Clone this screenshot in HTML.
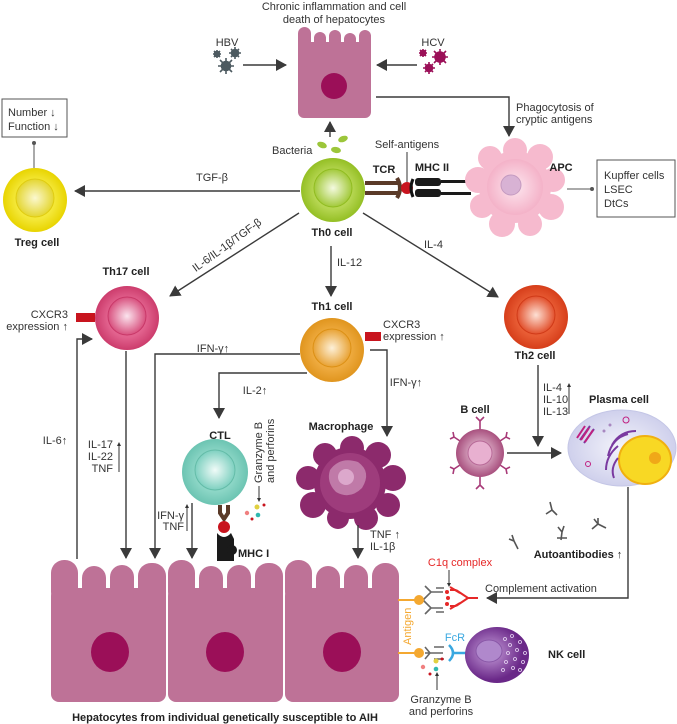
<!DOCTYPE html>
<html><head><meta charset="utf-8"><style>
html,body{margin:0;padding:0;background:#fff}
svg{display:block}
text{font-family:"Liberation Sans",sans-serif;font-size:11px;fill:#333}
.b{font-weight:bold;fill:#222}
</style></head><body>
<svg width="677" height="724" viewBox="0 0 677 724" xmlns="http://www.w3.org/2000/svg">
<defs>
<marker id="ar" markerUnits="userSpaceOnUse" markerWidth="12" markerHeight="12" refX="10" refY="6" orient="auto"><path d="M0,0 L11,6 L0,12 Z" fill="#3a3a3a"/></marker>
<radialGradient id="gG"><stop offset="0" stop-color="#f4fae0"/><stop offset="1" stop-color="#a2c93a"/></radialGradient>
<radialGradient id="gGo"><stop offset="0.6" stop-color="#b6d652"/><stop offset="1" stop-color="#94bf24"/></radialGradient>
<radialGradient id="gY"><stop offset="0" stop-color="#fbf8d0"/><stop offset="1" stop-color="#e4d630"/></radialGradient>
<radialGradient id="gYo"><stop offset="0.6" stop-color="#f4e83a"/><stop offset="1" stop-color="#e8d400"/></radialGradient>
<radialGradient id="gP"><stop offset="0" stop-color="#fbe4ee"/><stop offset="1" stop-color="#d8507e"/></radialGradient>
<radialGradient id="gPo"><stop offset="0.6" stop-color="#e2628e"/><stop offset="1" stop-color="#cc3c6c"/></radialGradient>
<radialGradient id="gO"><stop offset="0" stop-color="#fdf0d8"/><stop offset="1" stop-color="#e8a234"/></radialGradient>
<radialGradient id="gOo"><stop offset="0.6" stop-color="#eeaa3e"/><stop offset="1" stop-color="#e0951e"/></radialGradient>
<radialGradient id="gR"><stop offset="0" stop-color="#fde0d4"/><stop offset="1" stop-color="#e2502c"/></radialGradient>
<radialGradient id="gRo"><stop offset="0.6" stop-color="#e85c34"/><stop offset="1" stop-color="#d63e1a"/></radialGradient>
<radialGradient id="gT"><stop offset="0" stop-color="#f0fbf8"/><stop offset="1" stop-color="#7ed0c0"/></radialGradient>
<radialGradient id="gTo"><stop offset="0.6" stop-color="#8cd6c6"/><stop offset="1" stop-color="#6cc4b2"/></radialGradient>
<radialGradient id="gB"><stop offset="0" stop-color="#f6dceb"/><stop offset="1" stop-color="#a8507e"/></radialGradient>
<radialGradient id="gNK" cx="0.4" cy="0.45"><stop offset="0" stop-color="#c8a0dc"/><stop offset="1" stop-color="#6a2888"/></radialGradient>
<radialGradient id="gPl"><stop offset="0" stop-color="#f4f4fb"/><stop offset="1" stop-color="#cfd0ec"/></radialGradient>
<radialGradient id="gAPC"><stop offset="0" stop-color="#fde6ef"/><stop offset="1" stop-color="#f4b2c8"/></radialGradient>
</defs>

<!-- title -->
<text x="334" y="10" text-anchor="middle">Chronic inflammation and cell</text>
<text x="334" y="23" text-anchor="middle">death of hepatocytes</text>

<!-- top hepatocyte -->
<g fill="#be7297">
<rect x="298" y="42" width="73" height="76" rx="6"/>
<rect x="298" y="27" width="13" height="40" rx="6.5"/>
<rect x="314" y="32" width="12" height="35" rx="6"/>
<rect x="329" y="30" width="12" height="35" rx="6"/>
<rect x="344" y="33" width="12" height="35" rx="6"/>
<rect x="359" y="30" width="12" height="40" rx="6"/>
</g>
<circle cx="334" cy="86" r="13" fill="#9b0f58"/>

<!-- HBV -->
<text x="227" y="46" text-anchor="middle">HBV</text>
<g stroke="#4d5a60" stroke-width="1.6" fill="#4d5a60">
<circle cx="217" cy="54" r="2.5"/><path d="M213,54h8M217,50v8M214,51l6,6M220,51l-6,6"/>
<circle cx="235" cy="53" r="3.5"/><path d="M229,53h12M235,47v12M231,49l8,8M239,49l-8,8"/>
<circle cx="226" cy="66" r="4.5"/><path d="M218,66h16M226,58v16M220,60l12,12M232,60l-12,12"/>
</g>
<line x1="243" y1="65" x2="286" y2="65" stroke="#3a3a3a" stroke-width="1.4" marker-end="url(#ar)"/>
<!-- HCV -->
<text x="433" y="46" text-anchor="middle">HCV</text>
<g stroke="#9b1058" stroke-width="1.6" fill="#9b1058">
<circle cx="423" cy="53" r="2.5"/><path d="M419,53h8M423,49v8M420,50l6,6M426,50l-6,6"/>
<circle cx="440" cy="57" r="5"/><path d="M432,57h16M440,49v16M434,51l12,12M446,51l-12,12"/>
<circle cx="429" cy="68" r="3.5"/><path d="M423,68h12M429,62v12M425,64l8,8M433,64l-8,8"/>
</g>
<line x1="417" y1="65" x2="377" y2="65" stroke="#3a3a3a" stroke-width="1.4" marker-end="url(#ar)"/>

<!-- phagocytosis -->
<polyline points="376,97 509,97 509,136" fill="none" stroke="#3a3a3a" stroke-width="1.4" marker-end="url(#ar)"/>
<text x="516" y="111">Phagocytosis of</text>
<text x="516" y="123">cryptic antigens</text>

<!-- Treg box -->
<rect x="2" y="99" width="65" height="38" fill="#fff" stroke="#555" stroke-width="1"/>
<text x="8" y="116">Number ↓</text>
<text x="8" y="130">Function ↓</text>
<line x1="34" y1="143" x2="34" y2="168" stroke="#555" stroke-width="1"/>
<circle cx="34" cy="143" r="2" fill="#555"/>
<!-- Treg -->
<circle cx="35" cy="200" r="32" fill="url(#gYo)"/>
<circle cx="35" cy="198" r="19" fill="url(#gY)" stroke="#e0cc10" stroke-width="1"/>
<text x="37" y="246" text-anchor="middle" class="b">Treg cell</text>

<!-- bacteria -->
<line x1="330" y1="137" x2="330" y2="122" stroke="#3a3a3a" stroke-width="1.4" marker-end="url(#ar)"/>
<g fill="#9cc63a"><ellipse cx="322" cy="145" rx="5" ry="3" transform="rotate(20 322 145)"/><ellipse cx="343" cy="139" rx="5" ry="3" transform="rotate(-20 343 139)"/><ellipse cx="336" cy="150" rx="5" ry="3" transform="rotate(10 336 150)"/></g>
<text x="272" y="154">Bacteria</text>

<!-- Th0 -->
<circle cx="333" cy="190" r="32" fill="url(#gGo)"/>
<circle cx="333" cy="188" r="19" fill="url(#gG)" stroke="#90bc20" stroke-width="1"/>
<text x="332" y="236" text-anchor="middle" class="b">Th0 cell</text>

<!-- TGF-b -->
<line x1="300" y1="191" x2="75" y2="191" stroke="#3a3a3a" stroke-width="1.4" marker-end="url(#ar)"/>
<text x="212" y="181" text-anchor="middle">TGF-β</text>

<!-- TCR / MHC II -->
<rect x="365" y="181" width="34" height="4" fill="#5a3a28"/>
<rect x="365" y="191" width="34" height="4" fill="#5a3a28"/>
<path d="M397,178 q6,10 0,20" fill="none" stroke="#5a3a28" stroke-width="4"/>
<circle cx="407" cy="188" r="6" fill="#c8141e"/>
<line x1="407" y1="152" x2="407" y2="182" stroke="#333" stroke-width="1"/>
<text x="407" y="148" text-anchor="middle">Self-antigens</text>
<text x="384" y="173" text-anchor="middle" class="b">TCR</text>
<text x="432" y="171" text-anchor="middle" class="b">MHC II</text>
<path d="M413,179 q-4,9 0,18" fill="none" stroke="#111" stroke-width="3"/>
<rect x="415" y="178" width="26" height="8" rx="3" fill="#1a1a1a"/>
<rect x="415" y="189" width="26" height="8" rx="3" fill="#1a1a1a"/>
<rect x="441" y="180" width="30" height="3" fill="#1a1a1a"/>
<rect x="441" y="192" width="30" height="3" fill="#1a1a1a"/>

<!-- APC -->
<g fill="#f6bace">
<circle cx="515" cy="187" r="36"/>
<circle cx="515" cy="150" r="12"/><circle cx="540" cy="157" r="13"/><circle cx="553" cy="180" r="12"/>
<circle cx="551" cy="207" r="13"/><circle cx="530" cy="224" r="12"/><circle cx="502" cy="224" r="13"/>
<circle cx="482" cy="206" r="12"/><circle cx="478" cy="180" r="13"/><circle cx="490" cy="158" r="12"/>
</g>
<circle cx="515" cy="187" r="28" fill="url(#gAPC)"/>
<circle cx="511" cy="185" r="10" fill="#d8b2d4" stroke="#c49ac0"/>
<text x="561" y="171" text-anchor="middle" class="b">APC</text>
<line x1="567" y1="189" x2="592" y2="189" stroke="#555" stroke-width="1"/>
<circle cx="592" cy="189" r="2" fill="#555"/>
<rect x="597" y="160" width="78" height="57" fill="#fff" stroke="#555" stroke-width="1"/>
<text x="604" y="179">Kupffer cells</text>
<text x="604" y="193">LSEC</text>
<text x="604" y="207">DtCs</text>

<!-- Th0 branches -->
<line x1="299" y1="213" x2="170" y2="296" stroke="#3a3a3a" stroke-width="1.4" marker-end="url(#ar)"/>
<text x="229" y="248" text-anchor="middle" transform="rotate(-36 229 248)">IL-6/IL-1β/TGF-β</text>
<line x1="331" y1="246" x2="331" y2="296" stroke="#3a3a3a" stroke-width="1.4" marker-end="url(#ar)"/>
<text x="337" y="266">IL-12</text>
<line x1="363" y1="213" x2="498" y2="297" stroke="#3a3a3a" stroke-width="1.4" marker-end="url(#ar)"/>
<text x="424" y="248">IL-4</text>

<!-- Th17 -->
<text x="126" y="275" text-anchor="middle" class="b">Th17 cell</text>
<circle cx="127" cy="318" r="32" fill="url(#gPo)"/>
<circle cx="127" cy="316" r="19" fill="url(#gP)" stroke="#c83868" stroke-width="1"/>
<rect x="76" y="313" width="19" height="9" fill="#c8141e"/>
<text x="68" y="318" text-anchor="end">CXCR3</text>
<text x="68" y="330" text-anchor="end">expression ↑</text>

<!-- Th1 -->
<text x="332" y="310" text-anchor="middle" class="b">Th1 cell</text>
<circle cx="332" cy="350" r="32" fill="url(#gOo)"/>
<circle cx="332" cy="348" r="19" fill="url(#gO)" stroke="#dc9014" stroke-width="1"/>
<rect x="365" y="332" width="16" height="9" fill="#c8141e"/>
<text x="383" y="328">CXCR3</text>
<text x="383" y="340">expression ↑</text>

<!-- Th2 -->
<circle cx="536" cy="317" r="32" fill="url(#gRo)"/>
<circle cx="536" cy="315" r="19" fill="url(#gR)" stroke="#d03a18" stroke-width="1"/>
<text x="535" y="359" text-anchor="middle" class="b">Th2 cell</text>

<!-- IL-6 loop -->
<polyline points="77,559 77,339 92,339" fill="none" stroke="#3a3a3a" stroke-width="1.4" marker-end="url(#ar)"/>
<text x="55" y="444" text-anchor="middle">IL-6↑</text>
<!-- Th17 down -->
<line x1="126" y1="351" x2="126" y2="558" stroke="#3a3a3a" stroke-width="1.4" marker-end="url(#ar)"/>
<text x="113" y="448" text-anchor="end">IL-17</text>
<text x="113" y="460" text-anchor="end">IL-22</text>
<text x="113" y="472" text-anchor="end">TNF</text>
<line x1="119" y1="472" x2="119" y2="444" stroke="#333" stroke-width="1"/><path d="M117,446 l2,-4 l2,4z" fill="#333"/>

<!-- Th1 outputs -->
<polyline points="300,354 155,354 155,558" fill="none" stroke="#3a3a3a" stroke-width="1.4" marker-end="url(#ar)"/>
<text x="213" y="352" text-anchor="middle">IFN-γ↑</text>
<polyline points="307,373 219,373 219,418" fill="none" stroke="#3a3a3a" stroke-width="1.4" marker-end="url(#ar)"/>
<text x="255" y="394" text-anchor="middle">IL-2↑</text>
<polyline points="370,350 387,350 387,436" fill="none" stroke="#3a3a3a" stroke-width="1.4" marker-end="url(#ar)"/>
<text x="406" y="386" text-anchor="middle">IFN-γ↑</text>

<!-- CTL -->
<text x="220" y="439" text-anchor="middle" class="b">CTL</text>
<circle cx="215" cy="472" r="33" fill="url(#gTo)"/>
<circle cx="215" cy="470" r="20" fill="url(#gT)" stroke="#64bca8" stroke-width="1"/>
<text x="0" y="0" transform="translate(262 483) rotate(-90)">Granzyme B</text>
<text x="0" y="0" transform="translate(274 483) rotate(-90)">and perforins</text>
<line x1="259" y1="486" x2="259" y2="500" stroke="#333" stroke-width="1"/><path d="M257,498 l2,4 l2,-4z" fill="#333"/>
<circle cx="257" cy="507" r="2.5" fill="#e0d040"/><circle cx="264" cy="505" r="1.5" fill="#c8141e"/>
<circle cx="247" cy="513" r="2.2" fill="#f08080"/><circle cx="258" cy="515" r="2.3" fill="#30b8b0"/><circle cx="252" cy="519" r="1.5" fill="#c8141e"/>
<path d="M220,505 v8 l4,6 l4,-6 v-8" fill="none" stroke="#5a3a28" stroke-width="4"/>
<circle cx="224" cy="527" r="6" fill="#c8141e"/>
<path d="M217,533 q7,8 14,0 l3,6 v22 h-17 v-22z" fill="#1a1a1a"/>
<circle cx="232" cy="550" r="5" fill="#1a1a1a"/>
<text x="238" y="557" class="b">MHC I</text>
<text x="184" y="519" text-anchor="end">IFN-γ</text>
<text x="184" y="530" text-anchor="end">TNF</text>
<line x1="187" y1="531" x2="187" y2="506" stroke="#333" stroke-width="1"/><path d="M185,508 l2,-4 l2,4z" fill="#333"/>
<line x1="192" y1="503" x2="192" y2="558" stroke="#3a3a3a" stroke-width="1.4" marker-end="url(#ar)"/>

<!-- Macrophage -->
<text x="341" y="430" text-anchor="middle" class="b">Macrophage</text>
<g fill="#8c2a6c">
<circle cx="350" cy="483" r="36"/>
<circle cx="352" cy="448" r="12"/><circle cx="378" cy="455" r="13"/><circle cx="393" cy="478" r="13"/>
<circle cx="388" cy="505" r="12"/><circle cx="366" cy="518" r="12"/><circle cx="338" cy="518" r="11"/>
<circle cx="313" cy="505" r="13"/><circle cx="308" cy="478" r="12"/><circle cx="325" cy="455" r="12"/>
</g>
<circle cx="350" cy="483" r="30" fill="#9e3c7c"/>
<path d="M330,470 q10,-14 28,-8 q14,10 4,26 q-12,12 -26,4 q-10,-10 -6,-22z" fill="#c07aa8"/>
<circle cx="346" cy="477" r="8" fill="#dca8cc"/>
<line x1="358" y1="525" x2="358" y2="558" stroke="#3a3a3a" stroke-width="1.4" marker-end="url(#ar)"/>
<text x="370" y="538">TNF ↑</text>
<text x="370" y="550">IL-1β</text>

<!-- bottom hepatocytes -->
<g fill="#be7297">
<rect x="51" y="588" width="115" height="114" rx="8"/>
<rect x="51" y="560" width="27" height="45" rx="13"/><rect x="82" y="566" width="24" height="40" rx="12"/><rect x="110" y="565" width="24" height="40" rx="12"/><rect x="138" y="563" width="28" height="45" rx="13"/>
<rect x="168" y="588" width="115" height="114" rx="8"/>
<rect x="168" y="560" width="27" height="45" rx="13"/><rect x="199" y="566" width="24" height="40" rx="12"/><rect x="227" y="565" width="24" height="40" rx="12"/><rect x="255" y="563" width="28" height="45" rx="13"/>
<rect x="285" y="588" width="114" height="114" rx="8"/>
<rect x="285" y="560" width="27" height="45" rx="13"/><rect x="316" y="566" width="24" height="40" rx="12"/><rect x="344" y="565" width="24" height="40" rx="12"/><rect x="372" y="563" width="27" height="45" rx="13"/>
</g>
<g fill="#9b0f58"><ellipse cx="110" cy="652" rx="19" ry="20"/><ellipse cx="225" cy="652" rx="19" ry="20"/><ellipse cx="342" cy="652" rx="19" ry="20"/></g>
<text x="225" y="721" text-anchor="middle" class="b">Hepatocytes from individual genetically susceptible to AIH</text>

<!-- B cell -->
<text x="475" y="413" text-anchor="middle" class="b">B cell</text>
<g stroke="#a83a78" stroke-width="1.6" fill="none">
<path d="M480,429 v-8 M476,417 l4,4 l4,-4"/>
<path d="M480,477 v8 M476,489 l4,-4 l4,4"/>
<path d="M460,441 l-6,-4 M450,439 l4,-2 l-1,-5"/>
<path d="M500,441 l6,-4 M510,439 l-4,-2 l1,-5"/>
<path d="M460,465 l-6,4 M450,467 l4,2 l-1,5"/>
<path d="M500,465 l6,4 M510,467 l-4,2 l1,5"/>
</g>
<circle cx="480" cy="453" r="24" fill="url(#gB)"/>
<circle cx="480" cy="453" r="12" fill="#e8b0d0" stroke="#b86a98"/>
<line x1="507" y1="453" x2="561" y2="453" stroke="#3a3a3a" stroke-width="1.6" marker-end="url(#ar)"/>
<!-- Th2 down -->
<line x1="538" y1="365" x2="538" y2="446" stroke="#3a3a3a" stroke-width="1.4" marker-end="url(#ar)"/>
<text x="543" y="391">IL-4</text>
<text x="543" y="403">IL-10</text>
<text x="543" y="415">IL-13</text>
<line x1="569" y1="414" x2="569" y2="385" stroke="#333" stroke-width="1"/><path d="M567,387 l2,-4 l2,4z" fill="#333"/>

<!-- Plasma cell -->
<text x="619" y="403" text-anchor="middle" class="b">Plasma cell</text>
<ellipse cx="622" cy="448" rx="54" ry="38" fill="url(#gPl)" stroke="#c4c6e6"/>
<ellipse cx="645" cy="460" rx="26" ry="24" fill="#f8d824" stroke="#f0b010" stroke-width="2"/>
<circle cx="655" cy="458" r="6" fill="#f0a818"/>
<g stroke="#7a3aa0" stroke-width="2" fill="none">
<path d="M612,445 q8,-14 24,-14 M608,456 q4,-18 20,-22 M606,470 q0,-14 12,-24 M614,478 q-4,-10 4,-20"/>
<path d="M580,440 l10,-14 M584,443 l10,-14"/>
</g>
<g stroke="#c02080" stroke-width="2"><path d="M577,438 l8,-12 M581,440 l8,-12 M585,442 l8,-12"/></g>
<circle cx="626" cy="420" r="3" fill="none" stroke="#c02080"/><circle cx="588" cy="464" r="2.5" fill="none" stroke="#c02080"/>
<circle cx="604" cy="431" r="1.5" fill="#a888c0"/><circle cx="610" cy="425" r="1.5" fill="#a888c0"/>

<!-- antibodies -->
<g stroke="#555" stroke-width="1.6" fill="none">
<path d="M550,502 l2,8 l-6,4 M552,510 l5,5"/>
<path d="M562,532 l-4,-5 M562,532 l2,-6 M562,532 l-1,8 M557,538 l10,0"/>
<path d="M598,524 l-4,-5 M598,524 l0,-6 M598,524 l-6,5 M598,524 l8,4"/>
<path d="M514,541 l-5,-2 M514,541 l-2,-6 M514,541 l4,8"/>
</g>
<text x="578" y="558" text-anchor="middle" class="b">Autoantibodies ↑</text>

<!-- complement -->
<polyline points="628,487 628,598 487,598" fill="none" stroke="#3a3a3a" stroke-width="1.4" marker-end="url(#ar)"/>
<text x="485" y="592">Complement activation</text>
<text x="460" y="566" text-anchor="middle" fill="#e02020" style="fill:#e62828">C1q complex</text>
<line x1="449" y1="570" x2="449" y2="585" stroke="#333" stroke-width="1"/><path d="M447,583 l2,4 l2,-4z" fill="#333"/>
<g stroke="#e62828" stroke-width="2" fill="none">
<path d="M478,598 h-10 l-12,-8 M468,598 l-12,8 M460,593 l-10,-6 M460,603 l-10,6 M456,590 h-6 M456,606 h-6"/>
</g>
<g fill="#e62828"><circle cx="447" cy="592" r="2"/><circle cx="447" cy="604" r="2"/><circle cx="448" cy="598" r="2"/></g>
<g stroke="#666" stroke-width="1.6" fill="none">
<path d="M423,600 l8,-8 h12 M431,592 l-6,-6 M436,588 h8"/>
<path d="M423,600 l8,8 h12 M431,608 l-6,6 M436,612 h8"/>
</g>
<!-- antigen -->
<g stroke="#f4a830" stroke-width="2"><line x1="398" y1="600" x2="418" y2="600"/><line x1="398" y1="653" x2="418" y2="653"/></g>
<circle cx="419" cy="600" r="5" fill="#f4a830"/><circle cx="419" cy="653" r="5" fill="#f4a830"/>
<text transform="translate(411 645) rotate(-90)" style="fill:#f4a830">Antigen</text>
<!-- FcR / NK -->
<g stroke="#666" stroke-width="1.6" fill="none"><path d="M425,653 h18 M430,653 l-5,-6 M430,653 l-5,6 M434,647 h10 M434,659 h10"/></g>
<path d="M449,645 q8,8 0,16" fill="none" stroke="#3aa8e0" stroke-width="2.5"/>
<line x1="454" y1="653" x2="466" y2="653" stroke="#3aa8e0" stroke-width="2.5"/>
<text x="455" y="641" text-anchor="middle" style="fill:#3aa8e0">FcR</text>
<ellipse cx="497" cy="655" rx="32" ry="28" fill="url(#gNK)"/>
<ellipse cx="489" cy="651" rx="13" ry="11" fill="#b088cc" stroke="#8a58a8"/>
<g fill="none" stroke="#e8d8f4" stroke-width="0.8">
<circle cx="505" cy="639" r="1.5"/><circle cx="512" cy="636" r="1.5"/><circle cx="520" cy="642" r="1.5"/><circle cx="510" cy="645" r="1.5"/><circle cx="517" cy="650" r="1.5"/><circle cx="525" cy="653" r="1.5"/><circle cx="508" cy="653" r="1.5"/><circle cx="515" cy="659" r="1.5"/><circle cx="523" cy="662" r="1.5"/><circle cx="506" cy="662" r="1.5"/><circle cx="513" cy="668" r="1.5"/><circle cx="503" cy="670" r="1.5"/><circle cx="520" cy="670" r="1.5"/>
</g>
<text x="548" y="658" class="b">NK cell</text>
<circle cx="436" cy="661" r="2.5" fill="#e0d040"/><circle cx="442" cy="659" r="1.5" fill="#c8141e"/>
<circle cx="423" cy="667" r="2.2" fill="#f08080"/><circle cx="436" cy="669" r="2.3" fill="#30b8b0"/><circle cx="430" cy="674" r="1.5" fill="#c8141e"/>
<line x1="437" y1="690" x2="437" y2="674" stroke="#333" stroke-width="1"/><path d="M435,676 l2,-4 l2,4z" fill="#333"/>
<text x="441" y="703" text-anchor="middle">Granzyme B</text>
<text x="441" y="715" text-anchor="middle">and perforins</text>
</svg>
</body></html>
